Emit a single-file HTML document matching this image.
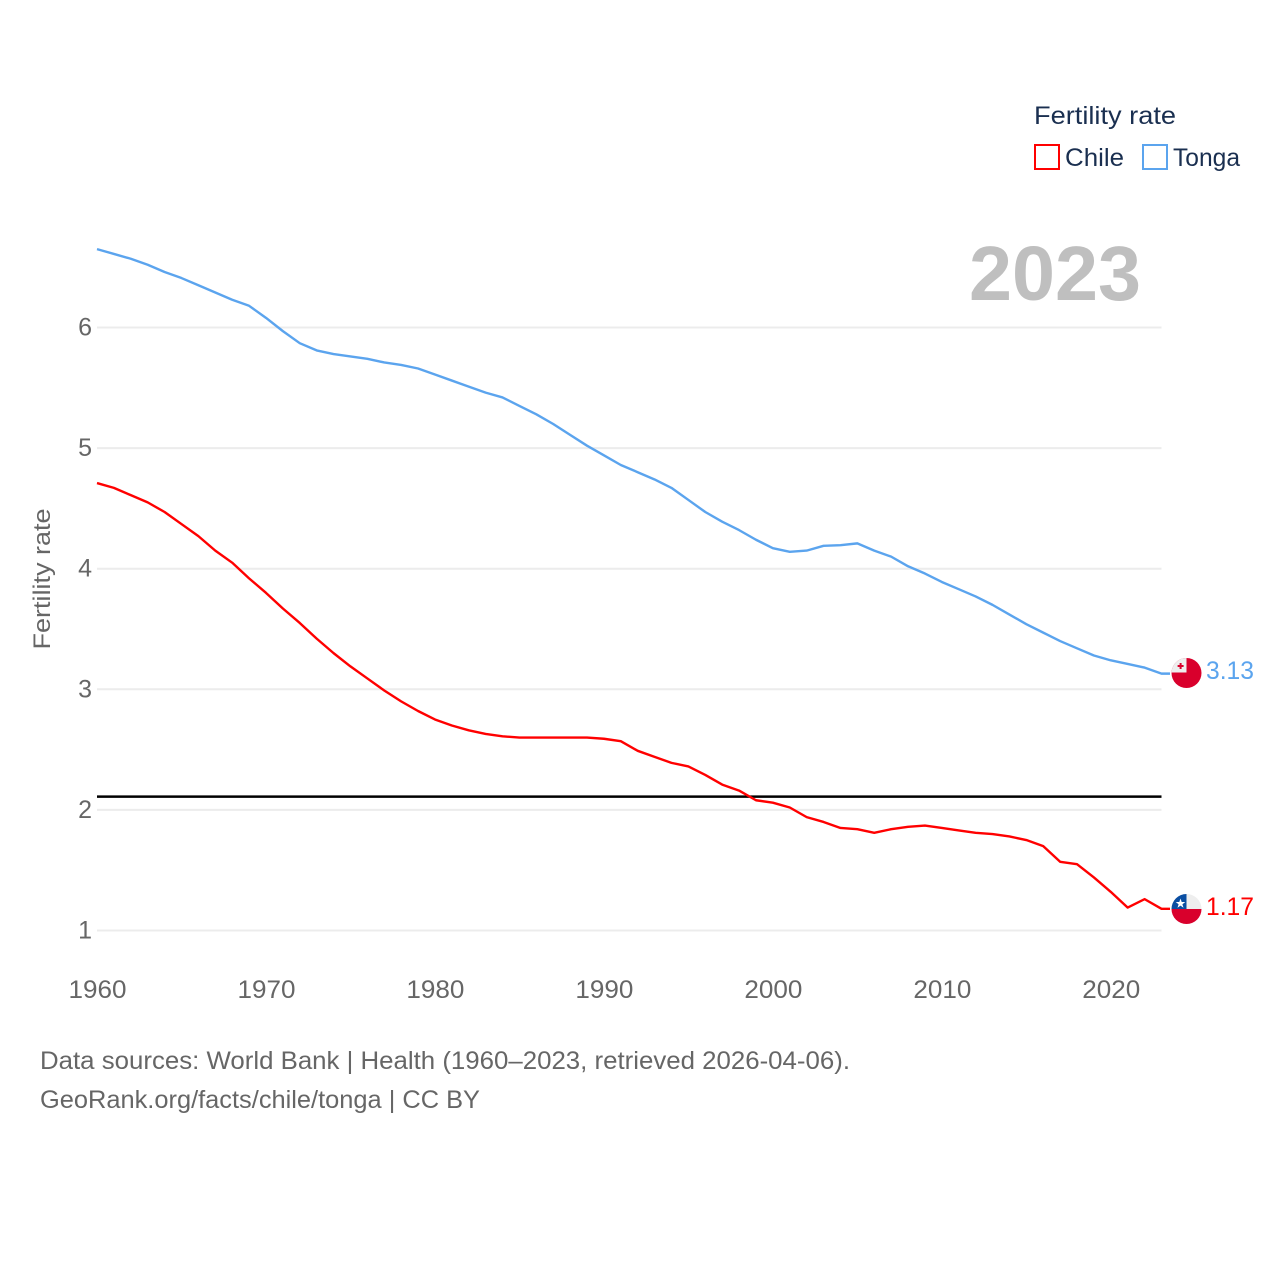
<!DOCTYPE html>
<html lang="en">
<head>
<meta charset="utf-8">
<title>Fertility rate: Chile and Tonga</title>
<style>
html,body{margin:0;padding:0;background:#fff;}
svg{display:block;font-family:"Liberation Sans",sans-serif;}
</style>
</head>
<body>
<svg id="chart" xmlns="http://www.w3.org/2000/svg" width="1280" height="1280" viewBox="0 0 1280 1280">
  <rect x="0" y="0" width="1280" height="1280" fill="#fff"/>

  <g id="y-grid"></g>
  <g id="y-labels"></g>
  <g id="x-labels"></g>

  <text transform="translate(50,579) rotate(-90)" text-anchor="middle" font-size="24" fill="#666" textLength="141" lengthAdjust="spacingAndGlyphs">Fertility rate</text>

  <text x="969" y="300" font-size="77" font-weight="bold" fill="#bfbfbf" textLength="172" lengthAdjust="spacingAndGlyphs">2023</text>

  <g id="reference"></g>
  <g id="series"></g>

  <g>
    <text x="1034" y="124" font-size="25" fill="#1a2f50" textLength="142" lengthAdjust="spacingAndGlyphs">Fertility rate</text>
    <g>
      <rect x="1035" y="145" width="24" height="24" fill="#fff" stroke="#ff0000" stroke-width="2"/>
      <text x="1065" y="166" font-size="25" fill="#1a2f50" textLength="59" lengthAdjust="spacingAndGlyphs">Chile</text>
    </g>
    <g>
      <rect x="1143" y="145" width="24" height="24" fill="#fff" stroke="#5ba4ee" stroke-width="2"/>
      <text x="1173" y="166" font-size="25" fill="#1a2f50" textLength="67" lengthAdjust="spacingAndGlyphs">Tonga</text>
    </g>
  </g>

  <defs>
    <clipPath id="flag-clip-tonga"><circle cx="1186.5" cy="673" r="15"/></clipPath>
    <clipPath id="flag-clip-chile"><circle cx="1186.5" cy="909" r="15"/></clipPath>
  </defs>

  <g clip-path="url(#flag-clip-tonga)">
    <rect x="1171" y="658" width="31" height="31" fill="#d9002c"/>
    <rect x="1171" y="658" width="15.5" height="14.5" fill="#eeeeee"/>
    <rect x="1179.6" y="663" width="2" height="6" fill="#d9002c"/>
    <rect x="1177.6" y="665" width="6" height="2" fill="#d9002c"/>
  </g>
  <g clip-path="url(#flag-clip-chile)">
    <rect x="1171" y="894" width="31" height="15" fill="#eeeeee"/>
    <rect x="1171" y="894" width="15.5" height="15" fill="#0a4ea2"/>
    <rect x="1171" y="909" width="31" height="16" fill="#d9002c"/>
    <polygon points="1180.5,898.5 1181.7,902 1185.3,902 1182.4,904.2 1183.5,907.7 1180.5,905.6 1177.5,907.7 1178.6,904.2 1175.7,902 1179.3,902" fill="#fff"/>
  </g>

  <text x="1206" y="679" font-size="25" fill="#5ba4ee" textLength="48" lengthAdjust="spacingAndGlyphs">3.13</text>
  <text x="1206" y="915" font-size="25" fill="#ff0000" textLength="48" lengthAdjust="spacingAndGlyphs">1.17</text>

  <g>
    <text x="40" y="1069" font-size="25" fill="#666" textLength="810" lengthAdjust="spacingAndGlyphs">Data sources: World Bank | Health (1960–2023, retrieved 2026-04-06).</text>
    <text x="40" y="1108" font-size="25" fill="#666" textLength="440" lengthAdjust="spacingAndGlyphs">GeoRank.org/facts/chile/tonga | CC BY</text>
  </g>
</svg>

<script>
const startYear = 1960;
const endYear = 2023;
const yTicks = [1, 2, 3, 4, 5, 6];
const xTicks = [1960, 1970, 1980, 1990, 2000, 2010, 2020];
const replacementRate = 2.11;
const chileValues = [
  4.71, 4.67, 4.61, 4.55, 4.47, 4.37, 4.27, 4.15, 4.05, 3.92,
  3.80, 3.67, 3.55, 3.42, 3.30, 3.19, 3.09, 2.99, 2.90, 2.82,
  2.75, 2.70, 2.66, 2.63, 2.61, 2.60, 2.60, 2.60, 2.60, 2.60,
  2.59, 2.57, 2.49, 2.44, 2.39, 2.36, 2.29, 2.21, 2.16, 2.08,
  2.06, 2.02, 1.94, 1.90, 1.85, 1.84, 1.81, 1.84, 1.86, 1.87,
  1.85, 1.83, 1.81, 1.80, 1.78, 1.75, 1.70, 1.57, 1.55, 1.44,
  1.32, 1.19, 1.26, 1.18
];
const tongaValues = [
  6.65, 6.61, 6.57, 6.52, 6.46, 6.41, 6.35, 6.29, 6.23, 6.18,
  6.08, 5.97, 5.87, 5.81, 5.78, 5.76, 5.74, 5.71, 5.69, 5.66,
  5.61, 5.56, 5.51, 5.46, 5.42, 5.35, 5.28, 5.20, 5.11, 5.02,
  4.94, 4.86, 4.80, 4.74, 4.67, 4.57, 4.47, 4.39, 4.32, 4.24,
  4.17, 4.14, 4.15, 4.19, 4.195, 4.21, 4.15, 4.10, 4.02, 3.96,
  3.89, 3.83, 3.77, 3.70, 3.62, 3.54, 3.47, 3.40, 3.34, 3.28,
  3.24, 3.21, 3.18, 3.13
];

const SVG_NS = 'http://www.w3.org/2000/svg';
const plotLeft = 97;
const plotRight = 1161.5;
const y1Pixel = 930.5;
const yUnit = 120.6;
const connectorEnd = 1170;

function xScale(year) {
  return plotLeft + (year - startYear) * (plotRight - plotLeft) / (endYear - startYear);
}
function yScale(value) {
  return y1Pixel - (value - 1) * yUnit;
}
function make(tag, attrs) {
  const el = document.createElementNS(SVG_NS, tag);
  Object.keys(attrs).forEach(function (k) { el.setAttribute(k, attrs[k]); });
  return el;
}

const gridGroup = document.getElementById('y-grid');
const yLabelGroup = document.getElementById('y-labels');
yTicks.forEach(function (tick) {
  const line = make('line', { x1: plotLeft, x2: plotRight, y1: yScale(tick), y2: yScale(tick), stroke: '#ececec', 'stroke-width': 2 });
  
  
  gridGroup.appendChild(line);

  const label = make('text', { x: 92, y: yScale(tick) + 8, 'text-anchor': 'end', 'font-size': 25, fill: '#666' });
  
  
  label.textContent = tick;
  yLabelGroup.appendChild(label);
});

const xLabelGroup = document.getElementById('x-labels');
xTicks.forEach(function (tick) {
  const label = make('text', { x: xScale(tick) + 0.5, y: 998, 'text-anchor': 'middle', 'font-size': 25, fill: '#666', textLength: 58, lengthAdjust: 'spacingAndGlyphs' });
  
  
  label.textContent = tick;
  xLabelGroup.appendChild(label);
});

const refLine = make('line', { x1: plotLeft, x2: plotRight, y1: yScale(replacementRate), y2: yScale(replacementRate), stroke: '#000', 'stroke-width': 2.5 });


document.getElementById('reference').appendChild(refLine);

function linePoints(values) {
  const pts = values.map(function (v, i) {
    return xScale(startYear + i).toFixed(2) + ',' + yScale(v).toFixed(2);
  });
  pts.push(connectorEnd + ',' + yScale(values[values.length - 1]).toFixed(2));
  return pts.join(' ');
}

const seriesGroup = document.getElementById('series');

const tongaLine = make('polyline', { points: linePoints(tongaValues), fill: 'none', stroke: '#5ba4ee', 'stroke-width': 2.4, 'stroke-linejoin': 'round' });


seriesGroup.appendChild(tongaLine);

const chileLine = make('polyline', { points: linePoints(chileValues), fill: 'none', stroke: '#ff0000', 'stroke-width': 2.4, 'stroke-linejoin': 'round' });


seriesGroup.appendChild(chileLine);
</script>
</body>
</html>
